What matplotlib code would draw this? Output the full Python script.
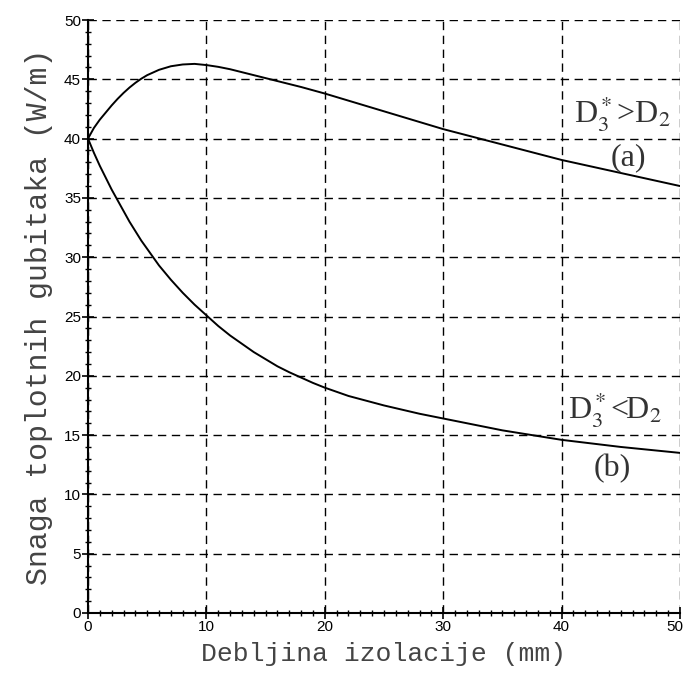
import matplotlib
matplotlib.use("Agg")
import matplotlib.pyplot as plt
from matplotlib.ticker import MultipleLocator
from matplotlib.transforms import ScaledTranslation

# data
x_a = [0, 0.5, 1, 1.5, 2, 2.5, 3, 3.5, 4, 4.5, 5, 6, 7, 8, 9, 10, 11, 12, 13, 14, 15,
       16, 18, 20, 22, 25, 28, 30, 35, 40, 45, 50]
y_a = [40.0, 40.9, 41.6, 42.2, 42.8, 43.35, 43.85, 44.3, 44.7, 45.05, 45.35, 45.8,
       46.1, 46.25, 46.3, 46.2, 46.05, 45.85, 45.6, 45.35, 45.1, 44.85, 44.35, 43.8,
       43.2, 42.3, 41.4, 40.8, 39.5, 38.2, 37.1, 36.0]
x_b = [0, 0.5, 1, 1.5, 2, 2.5, 3, 3.5, 4, 4.5, 5, 6, 7, 8, 9, 10, 11, 12, 13, 14, 15,
       16, 17, 18, 19, 20, 22, 25, 28, 30, 35, 40, 45, 50]
y_b = [40.0, 38.8, 37.7, 36.7, 35.7, 34.8, 33.9, 33.0, 32.2, 31.4, 30.7, 29.3, 28.1,
       27.0, 26.0, 25.1, 24.2, 23.4, 22.7, 22.0, 21.4, 20.8, 20.3, 19.85, 19.4, 19.0,
       18.3, 17.5, 16.8, 16.4, 15.4, 14.6, 14.0, 13.5]
x_ticks = [0, 10, 20, 30, 40, 50]
y_ticks = [0, 5, 10, 15, 20, 25, 30, 35, 40, 45, 50]
x_label = "Debljina izolacije (mm)"
y_label = "Snaga toplotnih gubitaka (W/m)"

fig = plt.figure(figsize=(6.86, 6.77), dpi=100)
ax = fig.add_axes([88/686, 1-613/677, 592/686, 593/677])

ax.plot(x_a, y_a, color="black", lw=1.4)
ax.plot(x_b, y_b, color="black", lw=1.4)

ax.set_xlim(0, 50)
ax.set_ylim(0, 50)
ax.set_xticks(x_ticks)
ax.set_yticks(y_ticks)
ax.xaxis.set_minor_locator(MultipleLocator(1))
ax.yaxis.set_minor_locator(MultipleLocator(1))
ax.tick_params(which="major", direction="inout", length=8, width=1.2,
               labelsize=11, pad=1)
ax.tick_params(which="minor", direction="inout", length=4, width=1)
for lab in ax.get_xticklabels() + ax.get_yticklabels():
    lab.set_family("Liberation Sans")
last = ax.get_xticklabels()[-1]
last.set_transform(last.get_transform() + ScaledTranslation(-5/100, 0, fig.dpi_scale_trans))

ax.grid(True, which="major", color="black", linestyle=(0, (6, 4)), lw=1)
ax.spines["top"].set_visible(False)
ax.spines["right"].set_visible(False)
ax.spines["left"].set_linewidth(1.5)
ax.spines["bottom"].set_linewidth(1.5)

ax.set_xlabel(x_label, family="Liberation Mono", fontsize=19, color="#444444", labelpad=6)
ax.set_ylabel(y_label, family="Liberation Mono", fontsize=21.5, color="#444444", labelpad=8)

ax.text(45.1, 42.1, r"D$_3^*$>D$_2$", family="Liberation Serif", fontsize=23,
        ha="center", va="center", color="#333333", math_fontfamily="stix")
ax.text(45.6, 38.4, "(a)", family="Liberation Serif", fontsize=23,
        ha="center", va="center", color="#333333")
ax.text(44.5, 17.2, r"D$_3^*$<D$_2$", family="Liberation Serif", fontsize=23,
        ha="center", va="center", color="#333333", math_fontfamily="stix")
ax.text(44.3, 12.2, "(b)", family="Liberation Serif", fontsize=23,
        ha="center", va="center", color="#333333")

fig.savefig("out.png", dpi=100)
